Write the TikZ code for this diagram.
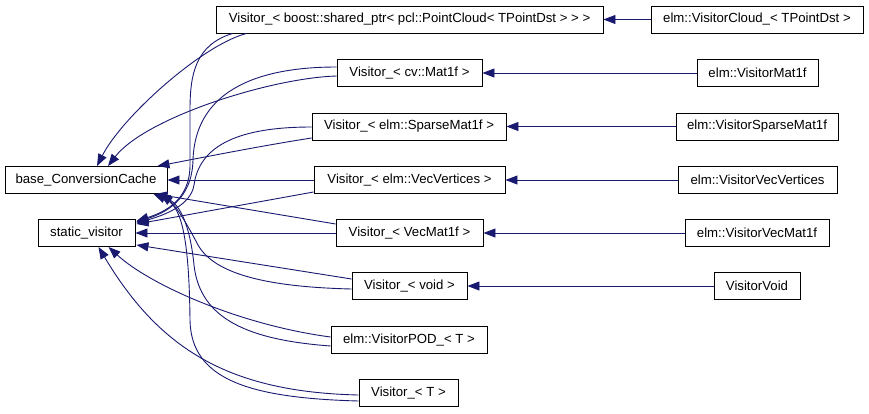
\documentclass[tikz,border=0pt]{standalone}
\usepackage{fontspec}
\setmainfont{Liberation Sans}
\usetikzlibrary{arrows.meta,calc}
\definecolor{cedge}{HTML}{191970}
\tikzset{
  cls/.style={draw=black, line width=0.9pt, fill=white, minimum height=27pt, inner sep=0pt, align=center, font=\fontsize{13.2}{15}\selectfont},
  inh/.style={-{Triangle[length=12pt,width=9pt]}, draw=cedge, line width=0.9pt},
}

\begin{document}
\begin{tikzpicture}[x=1pt,y=-1pt]
\useasboundingbox (0,0) rectangle (869,413);
\node[cls, minimum width=162pt] (base)  at (86,180)    {base\_ConversionCache};
\node[cls, minimum width=97pt]  (stv)   at (86.5,233)  {static\_visitor};
\node[cls, minimum width=387pt] (v0)    at (409.5,19.5) {Visitor\_< boost::shared\_ptr< pcl::PointCloud< TPointDst > > >};
\node[cls, minimum width=145pt] (vmat)  at (409.5,73)  {Visitor\_< cv::Mat1f >};
\node[cls, minimum width=194pt] (vsp)   at (409,126.5) {Visitor\_< elm::SparseMat1f >};
\node[cls, minimum width=191pt] (vvv)   at (409.5,180) {Visitor\_< elm::VecVertices >};
\node[cls, minimum width=147pt] (vvm)   at (409.5,233) {Visitor\_< VecMat1f >};
\node[cls, minimum width=115pt] (vvoid) at (409.5,286) {Visitor\_< void >};
\node[cls, minimum width=156pt] (vpod)  at (409,340)   {elm::VisitorPOD\_< T >};
\node[cls, minimum width=99pt]  (vt)    at (408.5,393) {Visitor\_< T >};
\node[cls, minimum width=212pt] (cloud) at (757,19.5)  {elm::VisitorCloud\_< TPointDst >};
\node[cls, minimum width=121pt] (emat)  at (757.5,73)  {elm::VisitorMat1f};
\node[cls, minimum width=162pt] (esp)   at (757,126.5) {elm::VisitorSparseMat1f};
\node[cls, minimum width=159pt] (evv)   at (757.5,180) {elm::VisitorVecVertices};
\node[cls, minimum width=144pt] (evm)   at (757,233)   {elm::VisitorVecMat1f};
\node[cls, minimum width=86pt]  (evoid) at (757,286)   {VisitorVoid};
\foreach \a/\b in {cloud/v0,emat/vmat,esp/vsp,evv/vvv,evm/vvm,evoid/vvoid} \draw[inh] (\a) -- (\b);
\draw[inh] (vvv) -- (base);
\draw[inh] (vvm) -- (stv);
\draw[inh] ($(v0.south west)+(31,0)$) .. controls (202,45) and (122,117) .. ($(base.north)+(11,0)$);
\draw[inh] ($(v0.south west)+(17,0)$) .. controls (195,45) and (190,75) .. (190,110) -- (190,165) .. controls (190,200) and (165,212) .. ($(stv.north east)+(1,2)$);
\draw[inh] ($(vmat.west)+(0,3)$) .. controls (270,78) and (145,118) .. ($(base.north)+(22,0)$);
\draw[inh] ($(vmat.west)+(0,-6)$) .. controls (250,67) and (195,95) .. (193,160) .. controls (192,200) and (165,213) .. ($(stv.north east)+(1,3)$);
\draw[inh] ($(vsp.west)+(0,11.5)$) .. controls (260,146) and (200,158) .. ($(base.north east)+(-10,0)$);
\draw[inh] ($(vsp.west)+(0,0.5)$) .. controls (250,127) and (200,140) .. (194,185) .. controls (191,205) and (165,215) .. ($(stv.north east)+(1,4)$);
\draw[inh] ($(vvv.west)+(0,12)$) -- ($(stv.north east)+(1,5)$);
\draw[inh] ($(vvm.west)+(0,-9)$) -- ($(base.south east)+(-12,0)$);
\draw[inh] ($(vvoid.west)+(0,-7)$) -- ($(stv.south east)+(1,-2)$);
\draw[inh] ($(vvoid.west)+(0,3)$) .. controls (270,287) and (215,275) .. (198,245) .. controls (185,220) and (175,205) .. ($(base.south east)+(-7,0)$);
\draw[inh] ($(vpod.west)+(0,-3)$) .. controls (240,325) and (150,285) .. ($(stv.south)+(22,0)$);
\draw[inh] ($(vpod.west)+(0,6)$) .. controls (250,340) and (200,320) .. (194,265) .. controls (190,225) and (180,205) .. ($(base.south east)+(-9,0)$);
\draw[inh] ($(vt.west)+(0,2)$) .. controls (230,392) and (160,350) .. ($(stv.south)+(12,0)$);
\draw[inh] ($(vt.west)+(0,8)$) .. controls (250,398) and (191,380) .. (190,320) .. controls (189,230) and (180,205) .. ($(base.south east)+(-14,0)$);
\end{tikzpicture}
\end{document}
